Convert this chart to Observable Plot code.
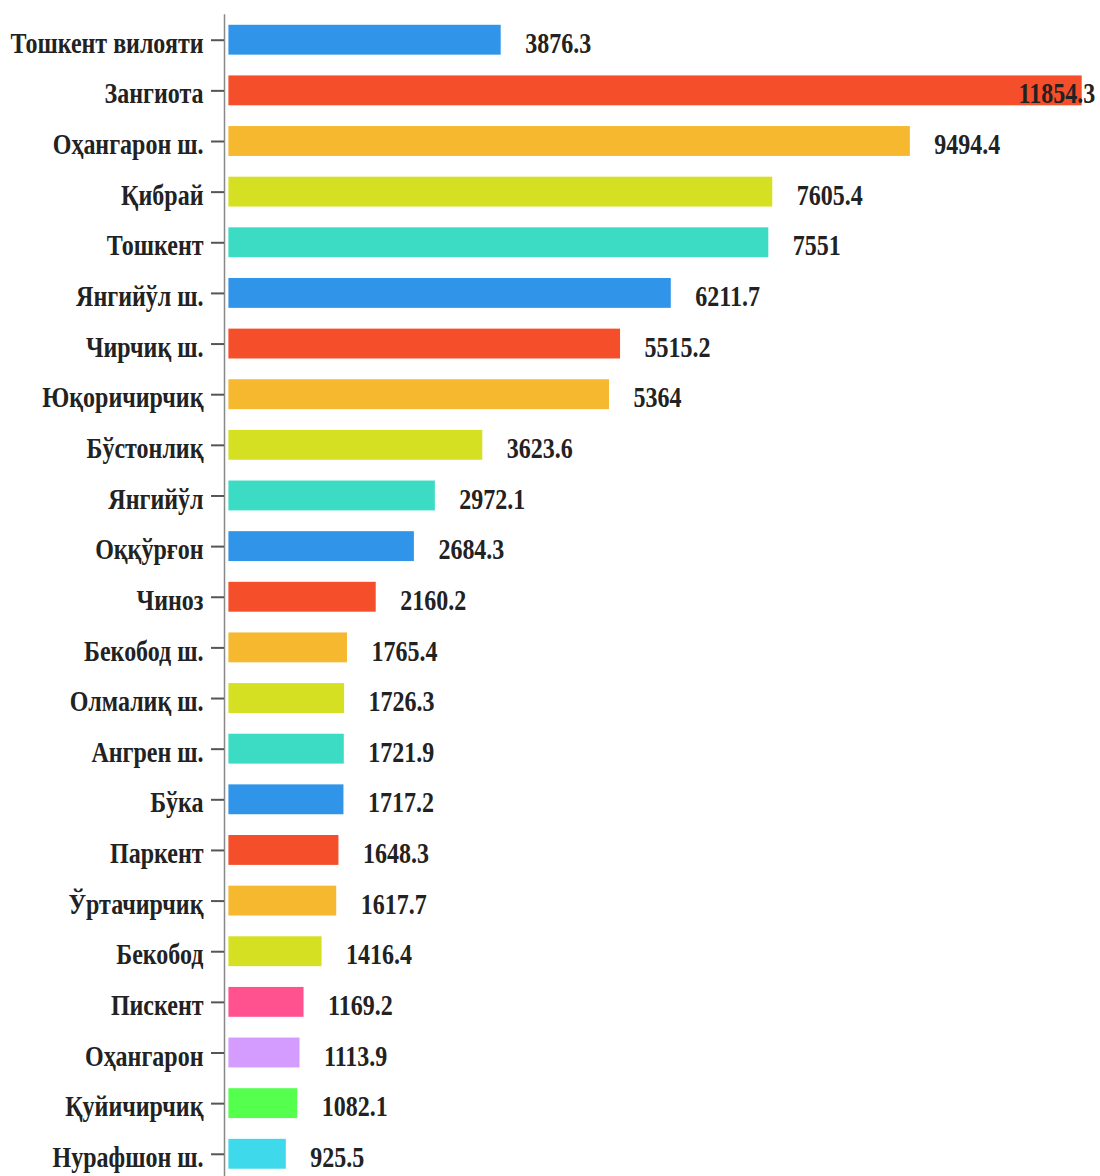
<!DOCTYPE html>
<html>
<head>
<meta charset="utf-8">
<script src="https://cdn.jsdelivr.net/npm/d3@7"></script>
<script src="https://cdn.jsdelivr.net/npm/@observablehq/plot@0.6"></script>
<style>
  html, body { margin: 0; padding: 0; background: #fff; overflow: hidden; }
  #chart svg { display: block; }
</style>
</head>
<body>
<div id="chart"></div>
<script>
const categories = [
  "Тошкент вилояти", "Зангиота", "Оҳангарон ш.", "Қибрай", "Тошкент",
  "Янгийўл ш.", "Чирчиқ ш.", "Юқоричирчиқ", "Бўстонлиқ", "Янгийўл",
  "Оққўрғон", "Чиноз", "Бекобод ш.", "Олмалиқ ш.", "Ангрен ш.",
  "Бўка", "Паркент", "Ўртачирчиқ", "Бекобод", "Пискент",
  "Оҳангарон", "Қуйичирчиқ", "Нурафшон ш."
];
const values = [
  3876.3, 11854.3, 9494.4, 7605.4, 7551,
  6211.7, 5515.2, 5364, 3623.6, 2972.1,
  2684.3, 2160.2, 1765.4, 1726.3, 1721.9,
  1717.2, 1648.3, 1617.7, 1416.4, 1169.2,
  1113.9, 1082.1, 925.5
];
const colors = [
  "#3094e8", "#f44e2a", "#f5b82e", "#d6e022", "#3cdcc4",
  "#3094e8", "#f44e2a", "#f5b82e", "#d6e022", "#3cdcc4",
  "#3094e8", "#f44e2a", "#f5b82e", "#d6e022", "#3cdcc4",
  "#3094e8", "#f44e2a", "#f5b82e", "#d6e022", "#ff528f",
  "#d49cff", "#55ff4e", "#3ed9ea"
];

const data = categories.map((c, i) => ({name: c, value: values[i]}));
const maxV = d3.max(values);
const font = "'Liberation Serif', 'Times New Roman', serif";
const fs = 30;

const chart = Plot.plot({
  width: 1100,
  height: 1180,
  marginLeft: 224,
  marginRight: 0,
  marginTop: 14.4,
  marginBottom: 0.9,
  x: {domain: [0, maxV], range: [218.4, 1081.7], axis: null},
  y: {domain: categories, paddingInner: 0.41, paddingOuter: 0.205, axis: null, round: false, label: null},
  color: {domain: categories, range: colors},
  marks: [
    Plot.barX(data, {x: "value", y: "name", fill: "name", insetLeft: 10}),
    Plot.frame({anchor: "left", stroke: "#888", strokeWidth: 1.5}),
    Plot.axisY({anchor: "left", label: null, tickSize: 13, tickPadding: 8, stroke: "#555", strokeWidth: 2,
      fill: "#222", fontFamily: font, fontWeight: "bold", fontSize: fs}),
    Plot.text(data.filter(d => d.value < maxV), {x: "value", y: "name", text: d => String(d.value),
      textAnchor: "start", dx: 24, fill: "#222", fontFamily: font, fontWeight: "bold", fontSize: fs}),
    Plot.text(data.filter(d => d.value === maxV), {x: "value", y: "name", text: d => String(d.value),
      textAnchor: "end", dx: 13, fill: "#222", fontFamily: font, fontWeight: "bold", fontSize: fs})
  ]
});

// compress text horizontally (narrow bold serif look) and nudge down slightly
chart.querySelectorAll("text").forEach(t => {
  const tr = t.getAttribute("transform") || "";
  t.setAttribute("transform", tr + " translate(0,3) scale(0.8,1)");
});

document.getElementById("chart").appendChild(chart);
</script>
</body>
</html>
